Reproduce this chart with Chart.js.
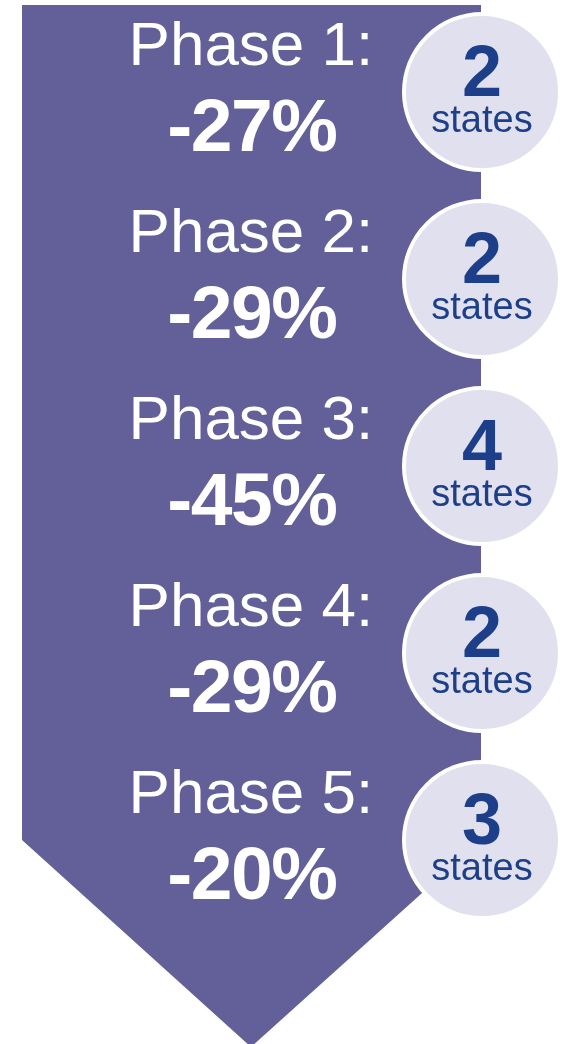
<!DOCTYPE html>
<html>
<head>
<meta charset="utf-8">
<script src="https://cdn.jsdelivr.net/npm/chart.js@4"></script>
<style>
  html, body { margin: 0; padding: 0; background: #fff; }
  canvas { display: block; }
</style>
</head>
<body>
<canvas id="myChart" width="577" height="1044"></canvas>
<script>
// data
const phases = ["Phase 1:", "Phase 2:", "Phase 3:", "Phase 4:", "Phase 5:"];
const changes = [-27, -29, -45, -29, -20];
const states = [2, 2, 4, 2, 3];

const purple = '#636099';
const navy = '#1d3f8a';
const font = '"Liberation Sans", Arial, sans-serif';

// arrow behind the bubbles
const arrowPlugin = {
  id: 'arrow',
  beforeDatasetsDraw(chart) {
    const ctx = chart.ctx;
    ctx.save();
    ctx.fillStyle = purple;
    ctx.beginPath();
    ctx.moveTo(22, 5);
    ctx.lineTo(481, 5);
    ctx.lineTo(481, 840);
    ctx.lineTo(251, 1047);
    ctx.lineTo(22, 840);
    ctx.closePath();
    ctx.fill();
    ctx.restore();
  }
};

// phase labels and bubble texts
const labelPlugin = {
  id: 'labels',
  afterDatasetsDraw(chart) {
    const ctx = chart.ctx;
    const y = chart.scales.y;
    const x = chart.scales.x;
    ctx.save();
    ctx.textAlign = 'center';
    ctx.textBaseline = 'alphabetic';
    phases.forEach((p, i) => {
      const cy = y.getPixelForValue(i);
      const tx = x.getPixelForValue(0.409);
      ctx.fillStyle = '#fff';
      ctx.letterSpacing = '0px';
      ctx.font = '62px ' + font;
      ctx.fillText(p, tx, cy - 27);
      ctx.font = 'bold 75px ' + font;
      ctx.letterSpacing = '-1.5px';
      ctx.fillText(changes[i] + '%', tx + 1, cy + 59);
      ctx.letterSpacing = '0px';

      const bx = x.getPixelForValue(0.9685);
      ctx.fillStyle = navy;
      ctx.font = 'bold 72px ' + font;
      ctx.fillText(String(states[i]), bx, cy + 4);
      ctx.font = '38px ' + font;
      ctx.fillText('states', bx, cy + 40);
    });
    ctx.restore();
  }
};

const ctx = document.getElementById('myChart').getContext('2d');

// bubble charts pad the chart area by radius + border (82px), scales below allow for that
const chart = new Chart(ctx, {
  type: 'bubble',
  data: {
    labels: phases,
    datasets: [{
      label: 'states',
      data: states.map((s, i) => ({ x: 0.9685, y: i, r: 78 })),
      backgroundColor: '#e1e0ee',
      borderColor: '#ffffff',
      borderWidth: 4,
      hoverBorderWidth: 4,
      clip: false
    }]
  },
  options: {
    responsive: false,
    animation: false,
    layout: { padding: 0 },
    plugins: {
      legend: { display: false },
      tooltip: { enabled: false }
    },
    scales: {
      x: { display: false, min: 0, max: 1 },
      y: { display: false, reverse: true, min: -0.0535, max: 4.6524 }
    }
  },
  plugins: [arrowPlugin, labelPlugin]
});
</script>
</body>
</html>
